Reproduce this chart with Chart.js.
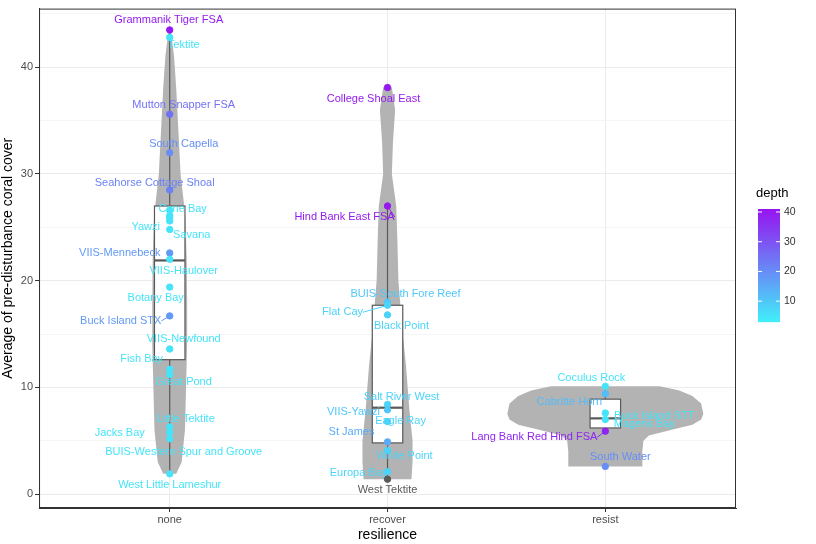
<!DOCTYPE html>
<html><head><meta charset="utf-8">
<script src="https://cdn.jsdelivr.net/npm/chart.js@4"></script>
<style>body{margin:0;background:#fff}#wrap{width:816px;height:544px}</style>
</head><body><div id="wrap"><canvas id="c"></canvas></div>
<script>
const categories = ['none', 'recover', 'resist'];

// points: group index, value, depth (null = NA), label
const ptGroup = [1,1,1,1,1,1,1,1,1,1,1,1,1,1,1,1,1,1,1,1,1, 2,2,2,2,2,2,2,2,2,2,2,2, 3,3,3,3,3,3];
const ptValue = [43.5,42.8,35.6,32.0,28.5,26.1,25.6,24.8,22.6,22.0,19.4,16.7,13.6,11.7,11.2,6.3,5.8,5.2,1.9,26.6,25.9,
                 38.1,27.0,18.0,17.7,16.8,8.4,7.9,6.8,4.9,4.1,2.1,1.4,
                 10.1,9.4,7.6,7.0,5.9,2.6];
const ptDepth = [40,5,25,20,22,5,5,5,18,5,5,18,5,5,5,5,5,5,5,5,5,
                 40,40,10,8,8,8,10,8,15,8,8,null,
                 5,12,5,5,38,20];
const ptLabel = ['Grammanik Tiger FSA','Tektite','Mutton Snapper FSA','South Capella','Seahorse Cottage Shoal','Cane Bay','Savana','Yawzi','VIIS-Mennebeck','VIIS-Haulover','Botany Bay','Buck Island STX','VIIS-Newfound','Fish Bay','Great Pond','Little Tektite','Jacks Bay','BUIS-Western Spur and Groove','West Little Lameshur','','',
                 'College Shoal East','Hind Bank East FSA','BUIS-South Fore Reef','Flat Cay','Black Point','Salt River West','VIIS-Yawzi','Eagle Ray','St James','White Point','Europa Bay','West Tektite',
                 'Coculus Rock','Cabritte Horn','Buck Island STT','Magens Bay','Lang Bank Red Hind FSA','South Water'];
// label nudges in pixels (dx, dy)
const labelDx = [-1,14,14,14,-15,13,22,-24,-50,14,-14,-49,14,-28,14,16,-50,14,0,0,0,
                 -14,-43,18,-45,14,14,-34,13,-36,17,-29,0,
                 -14,-36,49,39,-71,15];
const labelDy = [-10,8,-9,-9,-7,-7,14,-3,0,12,11,5,-10,-10,7,-8,1,13,11,0,0,
                 11,11,-8,7,11,-8,2,-1,-10,6,1,11,
                 -8,8,3,5,6,-9];

// boxplot stats per category: low whisker, Q1, median, Q3, high whisker
const boxLow = [1.9, 1.4, 5.9];
const boxQ1 = [12.6, 4.8, 6.2];
const boxMed = [21.9, 8.1, 7.1];
const boxQ3 = [27.0, 17.7, 8.9];
const boxHigh = [43.5, 27.0, 10.1];

// violin outlines: value levels and half widths (in category units)
const violinY = [
  [1.9, 3, 6, 10, 14, 18, 22, 26, 30, 34, 38, 41, 43.5],
  [1.4, 3, 5, 8, 12, 15, 20, 24, 27, 30, 33, 36, 38.1],
  [2.6, 4, 5, 5.5, 6, 6.5, 7, 7.5, 8.5, 9.2, 9.7, 10.1]
];
const violinW = [
  [0.03, 0.055, 0.07, 0.075, 0.08, 0.08, 0.078, 0.072, 0.05, 0.04, 0.03, 0.02, 0.005],
  [0.11, 0.115, 0.115, 0.1, 0.085, 0.07, 0.05, 0.045, 0.04, 0.02, 0.025, 0.035, 0.02],
  [0.17, 0.17, 0.175, 0.2, 0.3, 0.4, 0.44, 0.45, 0.44, 0.4, 0.34, 0.25]
];

const yTicks = [0, 10, 20, 30, 40];
const legendTicks = [10, 20, 30, 40];
const depthMin = 3, depthMax = 41;

function depthColor(d) {
  if (d === null) return '#595959';
  const t = Math.max(0, Math.min(1, (d - depthMin) / (depthMax - depthMin)));
  const lo = [64, 240, 250], hi = [150, 20, 240];
  const c = lo.map((v, i) => Math.round(v + (hi[i] - v) * t));
  return 'rgb(' + c.join(',') + ')';
}

const points = ptValue.map((v, i) => ({x: ptGroup[i], y: v}));
const colors = ptDepth.map(depthColor);

const violinBox = {
  id: 'violinBox',
  beforeDatasetsDraw(chart) {
    const {ctx, scales: {x, y}} = chart;
    ctx.save();
    violinY.forEach((ys, g) => {
      const cx = g + 1;
      ctx.beginPath();
      ys.forEach((v, k) => {
        const px = x.getPixelForValue(cx + violinW[g][k]);
        const py = y.getPixelForValue(v);
        k ? ctx.lineTo(px, py) : ctx.moveTo(px, py);
      });
      for (let k = ys.length - 1; k >= 0; k--) {
        ctx.lineTo(x.getPixelForValue(cx - violinW[g][k]), y.getPixelForValue(ys[k]));
      }
      ctx.closePath();
      ctx.fillStyle = '#b3b3b3';
      ctx.fill();
    });
    const hw = 0.07;
    categories.forEach((c, g) => {
      const cx = x.getPixelForValue(g + 1);
      const l = x.getPixelForValue(g + 1 - hw), r = x.getPixelForValue(g + 1 + hw);
      ctx.strokeStyle = '#595959';
      ctx.lineWidth = 1.2;
      ctx.beginPath();
      ctx.moveTo(cx, y.getPixelForValue(boxLow[g])); ctx.lineTo(cx, y.getPixelForValue(boxQ1[g]));
      ctx.moveTo(cx, y.getPixelForValue(boxQ3[g])); ctx.lineTo(cx, y.getPixelForValue(boxHigh[g]));
      ctx.stroke();
      const t = y.getPixelForValue(boxQ3[g]), b = y.getPixelForValue(boxQ1[g]);
      ctx.fillStyle = '#fff';
      ctx.fillRect(l, t, r - l, b - t);
      ctx.strokeRect(l, t, r - l, b - t);
      ctx.lineWidth = 2.2;
      ctx.beginPath();
      const m = y.getPixelForValue(boxMed[g]);
      ctx.moveTo(l, m); ctx.lineTo(r, m);
      ctx.stroke();
    });
    ctx.restore();
  },
  afterDatasetsDraw(chart) {
    const {ctx, chartArea: ca, scales: {x, y}} = chart;
    ctx.save();
    ctx.strokeStyle = '#333';
    ctx.lineWidth = 1;
    ctx.strokeRect(ca.left + 0.5, ca.top + 0.5, ca.right - ca.left - 1, ca.bottom - ca.top - 1);
    ctx.font = '11px "Liberation Sans", Arial, sans-serif';
    ctx.textAlign = 'center';
    ctx.textBaseline = 'middle';
    ptLabel.forEach((lab, i) => {
      if (!lab) return;
      const px = x.getPixelForValue(ptGroup[i]), py = y.getPixelForValue(ptValue[i]);
      const lx = px + labelDx[i], ly = py + labelDy[i];
      ctx.fillStyle = colors[i];
      if (Math.abs(labelDx[i]) > 40 && Math.abs(labelDy[i]) > 3) {
        const w = ctx.measureText(lab).width / 2;
        ctx.strokeStyle = colors[i];
        ctx.beginPath();
        ctx.moveTo(px, py);
        ctx.lineTo(lx + (labelDx[i] < 0 ? w : -w), ly);
        ctx.stroke();
      }
      ctx.fillText(lab, lx, ly);
    });
    const bx = 758, bw = 22, top = 209, bot = 322;
    const tv = v => bot - (v - depthMin) / (depthMax - depthMin) * (bot - top);
    for (let py = top; py < bot; py++) {
      const d = depthMin + (bot - py) / (bot - top) * (depthMax - depthMin);
      ctx.fillStyle = depthColor(d);
      ctx.fillRect(bx, py, bw, 1.2);
    }
    ctx.fillStyle = '#000';
    ctx.font = '13px "Liberation Sans", Arial, sans-serif';
    ctx.textAlign = 'left';
    ctx.fillText('depth', 756, 193);
    ctx.font = '10.5px "Liberation Sans", Arial, sans-serif';
    ctx.strokeStyle = '#fff';
    legendTicks.forEach(v => {
      const py = tv(v);
      ctx.beginPath();
      ctx.moveTo(bx, py); ctx.lineTo(bx + 4, py);
      ctx.moveTo(bx + bw - 4, py); ctx.lineTo(bx + bw, py);
      ctx.stroke();
      ctx.fillStyle = '#333';
      ctx.fillText(String(v), bx + bw + 4, py);
    });
    ctx.restore();
  }
};

new Chart(document.getElementById('c'), {
  type: 'scatter',
  data: {
    datasets: [{
      data: points,
      backgroundColor: colors,
      borderColor: colors,
      pointRadius: 3.2,
      pointHoverRadius: 3.2
    }]
  },
  options: {
    responsive: true,
    maintainAspectRatio: false,
    animation: false,
    layout: {padding: {top: 8, right: 80, left: 0, bottom: 0}},
    plugins: {legend: {display: false}, tooltip: {enabled: false}},
    scales: {
      x: {
        type: 'linear', min: 0.4, max: 3.6,
        afterBuildTicks: s => { s.ticks = categories.map((c, i) => ({value: i + 1})); },
        ticks: {callback: v => categories[v - 1] || '', color: '#4d4d4d', font: {size: 11}, padding: 1},
        grid: {color: '#ebebeb', tickColor: '#333', tickLength: 4},
        border: {color: '#333'},
        title: {display: true, text: 'resilience', color: '#000', font: {size: 14}, padding: {top: 0, bottom: 0}}
      },
      y: {
        min: -1.3, max: 45.5,
        afterBuildTicks: s => { s.ticks = [0,5,10,15,20,25,30,35,40,45].map(v => ({value: v})); },
        ticks: {callback: v => yTicks.includes(v) ? String(v) : '', color: '#4d4d4d', font: {size: 11}, padding: 2},
        grid: {
          color: c => (c.tick && yTicks.includes(c.tick.value)) ? '#ebebeb' : '#f5f5f5',
          tickColor: c => (c.tick && yTicks.includes(c.tick.value)) ? '#333' : 'rgba(0,0,0,0)',
          tickLength: 4
        },
        border: {color: '#333'},
        title: {display: true, text: 'Average of pre-disturbance coral cover', color: '#000', font: {size: 14}, padding: {top: 0, bottom: 2}}
      }
    }
  },
  plugins: [violinBox]
});
</script>
</body></html>
